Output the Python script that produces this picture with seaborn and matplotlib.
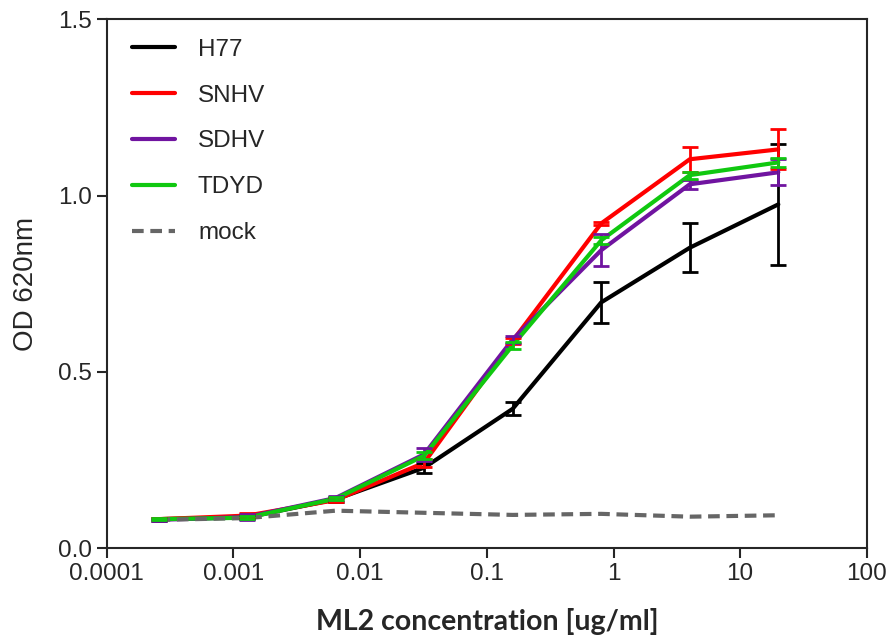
import numpy as np
import pandas as pd
import matplotlib
matplotlib.use("Agg")
import matplotlib.pyplot as plt
import seaborn as sns

# ML2 concentrations (5-fold dilution series)
conc = [0.000256, 0.00128, 0.0064, 0.032, 0.16, 0.8, 4, 20]

series = ["H77", "SNHV", "SDHV", "TDYD", "mock"]
h77 = [0.082, 0.087, 0.138, 0.228, 0.395, 0.697, 0.852, 0.975]
snhv = [0.082, 0.092, 0.136, 0.242, 0.588, 0.921, 1.103, 1.131]
sdhv = [0.080, 0.088, 0.142, 0.266, 0.592, 0.845, 1.032, 1.066]
tdyd = [0.082, 0.086, 0.140, 0.262, 0.575, 0.873, 1.058, 1.094]
mock = [0.080, 0.085, 0.106, 0.100, 0.094, 0.097, 0.089, 0.093]

h77_err = [0.004, 0.006, 0.006, 0.014, 0.018, 0.058, 0.069, 0.172]
snhv_err = [0.003, 0.008, 0.006, 0.012, 0.008, 0.005, 0.035, 0.057]
sdhv_err = [0.003, 0.008, 0.006, 0.018, 0.010, 0.046, 0.013, 0.037]
tdyd_err = [0.003, 0.004, 0.005, 0.010, 0.010, 0.010, 0.010, 0.013]
mock_err = [0, 0, 0, 0, 0, 0, 0, 0]

colors = ["#000000", "#ff0000", "#7014a0", "#10c810", "#666666"]

values = [h77, snhv, sdhv, tdyd, mock]
errors = [h77_err, snhv_err, sdhv_err, tdyd_err, mock_err]

rows = []
for name, vals, errs in zip(series, values, errors):
    for c, v, e in zip(conc, vals, errs):
        rows.append({"conc": c, "od": v, "err": e, "strain": name})
df = pd.DataFrame(rows)

sns.set_style("ticks")
plt.rcParams["font.family"] = ["Liberation Sans", "DejaVu Sans"]

fig = plt.figure(figsize=(8.9, 6.44), dpi=100)
ax = fig.add_axes([0.120, 0.149, 0.854, 0.821])

palette = dict(zip(series, colors))
sns.lineplot(data=df, x="conc", y="od", hue="strain", style="strain",
             palette=palette, hue_order=series, style_order=series,
             dashes={"H77": "", "SNHV": "", "SDHV": "", "TDYD": "", "mock": (2.8, 1.6)},
             linewidth=3.0, ax=ax, legend=True)

# error bars
for name in series[:4]:
    sub = df[df["strain"] == name]
    ax.errorbar(sub["conc"], sub["od"], yerr=sub["err"], fmt="none",
                ecolor=palette[name], elinewidth=2, capsize=5.5, capthick=2)

ax.set_xscale("log")
ax.set_xlim(0.0001, 100)
ax.set_ylim(0, 1.5)
ax.set_xticks([0.0001, 0.001, 0.01, 0.1, 1, 10, 100])
ax.set_xticklabels(["0.0001", "0.001", "0.01", "0.1", "1", "10", "100"])
ax.minorticks_off()
ax.set_yticks([0, 0.5, 1.0, 1.5])
ax.set_yticklabels(["0.0", "0.5", "1.0", "1.5"])
ax.tick_params(axis="both", direction="out", length=7, width=1.5, labelsize=17.5, pad=4)

for sp in ax.spines.values():
    sp.set_linewidth(1.5)
    sp.set_visible(True)

ax.set_xlabel("ML2 concentration [ug/ml]", fontsize=20.5, fontweight="bold",
              family=["Lato", "DejaVu Sans"], labelpad=16)
ax.set_ylabel("OD 620nm", fontsize=20, labelpad=13)

leg = ax.legend(loc="upper left", bbox_to_anchor=(0.008, 1.0), frameon=False,
                fontsize=17.5, handlelength=1.75, handletextpad=0.95,
                labelspacing=0.98, borderaxespad=0.4)
for line in leg.get_lines():
    line.set_linewidth(3.0)

fig.savefig("out.png", dpi=100)
